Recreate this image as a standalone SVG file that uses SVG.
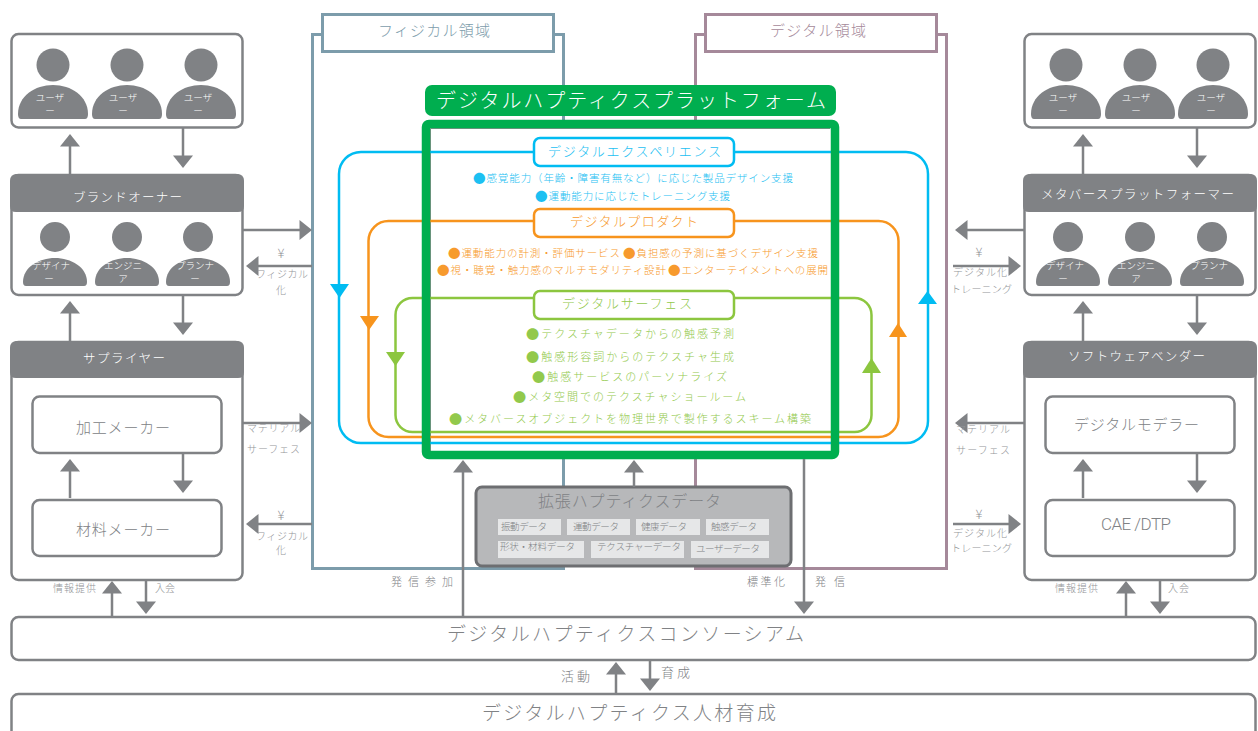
<svg xmlns="http://www.w3.org/2000/svg" width="1258" height="731" viewBox="0 0 1258 731">
<style>
text{font-family:"Noto Sans CJK JP","Noto Sans",sans-serif;font-weight:300;dominant-baseline:central;fill:#808285;font-size:10px}
.w{fill:#fff}
.pw{fill:#fff;font-size:9.5px;text-anchor:middle}
.box{fill:#fff;stroke:#808285;stroke-width:2.5}
.hd{fill:#808285}
.ar{fill:none;stroke:#808285;stroke-width:2.5}
.ah{fill:#808285}
.fig{fill:#808285}
.lb{font-size:10px;fill:#939598}
.yen{font-size:13px;fill:#939598;text-anchor:middle}
.h{font-size:12.5px}
.in{font-size:15px}
.bl{fill:#1cc0f2;font-size:10.5px}
.or{fill:#f79a2d;font-size:10.5px}
.gr{fill:#92c94c;font-size:11px}
.t13{font-size:13px}
.b{font-size:1.2em}
.chip{fill:#e6e7e8}
.ct{font-size:9.5px}
</style>
<defs>
<path id="body" class="fig" d="M-32,34Q-35,34-35,29C-35,11-18,0 0,0C18,0 35,11 35,29Q35,34 32,34Z"/>
<path id="body2" class="fig" d="M-29,28Q-32,28-32,24C-32,9-16,0 0,0C16,0 32,9 32,24Q32,28 29,28Z"/>
<path id="up" class="ah" d="M0,0L10,12.500L-10,12.500Z"/>
<path id="dn" class="ah" d="M0,0L-10,-12.500L10,-12.500Z"/>
<path id="lf" class="ah" d="M0,0L12.500,-10L12.500,10Z"/>
<path id="rt" class="ah" d="M0,0L-12.500,-10L-12.500,10Z"/>
</defs>
<rect width="1258" height="731" fill="#fff"/>

<g id="physical-domain">
<rect x="312.500" y="34.500" width="251" height="534" fill="none" stroke="#7c9cab" stroke-width="3"/>
<rect x="322.500" y="14.500" width="231" height="37" fill="#fff" stroke="#7c9cab" stroke-width="3"/>
<text x="378" y="29" textLength="112" style="fill:#7c9cab;font-size:15px">フィジカル領域</text>
</g>
<g id="digital-domain">
<rect x="695.500" y="34.500" width="251" height="534" fill="none" stroke="#a5899a" stroke-width="3"/>
<rect x="705.500" y="14.500" width="231" height="37" fill="#fff" stroke="#a5899a" stroke-width="3"/>
<text x="770" y="29" textLength="96" style="fill:#a5899a;font-size:15px">デジタル領域</text>
</g>

<g id="platform-back">
<rect x="426" y="124" width="409" height="331" fill="#fff"/>
<path d="M430.500,451V128.500H830" fill="none" stroke="#8a8a8a" stroke-width="1"/>
</g>

<g id="loops" fill="none" stroke-width="2.500">
<rect x="339" y="152" width="589" height="291" rx="22" stroke="#00bcf2"/>
<rect x="368.500" y="221" width="530" height="216" rx="20" stroke="#f7941d"/>
<rect x="395.500" y="298" width="476" height="134" rx="17" stroke="#8cc63f"/>
<path d="M330,284H349L339.500,298Z" fill="#00bcf2" stroke="none"/>
<path d="M918,304H937L927.500,291Z" fill="#00bcf2" stroke="none"/>
<path d="M360,316H379L369,330Z" fill="#f7941d" stroke="none"/>
<path d="M889,337H907L898,323Z" fill="#f7941d" stroke="none"/>
<path d="M386,352H405L395.500,366Z" fill="#8cc63f" stroke="none"/>
<path d="M862,373H881L871.500,358Z" fill="#8cc63f" stroke="none"/>
</g>

<g id="platform">
<rect x="426" y="124" width="409" height="331" rx="3" fill="none" stroke="#00ae4f" stroke-width="8.500"/>
<rect x="425" y="85" width="411" height="31" rx="7" fill="#00ae4f"/>
<text x="436" y="99" textLength="390" class="w" style="font-size:20px">デジタルハプティクスプラットフォーム</text>
</g>

<g id="digital-experience">
<rect x="534" y="138" width="200" height="28" rx="6" fill="#fff" stroke="#00bcf2" stroke-width="2.500"/>
<text x="548" y="150" textLength="173" class="bl t13">デジタルエクスペリエンス</text>
<text x="473" y="177" textLength="320" class="bl"><tspan class="b">●</tspan>感覚能力（年齢・障害有無など）に応じた製品デザイン支援</text>
<text x="535" y="195" textLength="195" class="bl"><tspan class="b">●</tspan>運動能力に応じたトレーニング支援</text>
</g>
<g id="digital-product">
<rect x="534" y="209" width="200" height="28" rx="6" fill="#fff" stroke="#f7941d" stroke-width="2.500"/>
<text x="570" y="220" textLength="128" class="or t13">デジタルプロダクト</text>
<text x="448" y="252" textLength="172" class="or"><tspan class="b">●</tspan>運動能力の計測・評価サービス</text>
<text x="623" y="252" textLength="195" class="or"><tspan class="b">●</tspan>負担感の予測に基づくデザイン支援</text>
<text x="437" y="269" textLength="229" class="or"><tspan class="b">●</tspan>視・聴覚・触力感のマルチモダリティ設計</text>
<text x="668" y="269" textLength="160" class="or"><tspan class="b">●</tspan>エンターテイメントへの展開</text>
</g>
<g id="digital-surface">
<rect x="534" y="291" width="200" height="28" rx="6" fill="#fff" stroke="#8cc63f" stroke-width="2.500"/>
<text x="562" y="302" textLength="130" class="gr t13">デジタルサーフェス</text>
<text x="526" y="333" textLength="208" class="gr"><tspan class="b">●</tspan>テクスチャデータからの触感予測</text>
<text x="526" y="356" textLength="208" class="gr"><tspan class="b">●</tspan>触感形容詞からのテクスチャ生成</text>
<text x="532" y="376" textLength="195" class="gr"><tspan class="b">●</tspan>触感サービスのパーソナライズ</text>
<text x="513" y="396" textLength="233" class="gr"><tspan class="b">●</tspan>メタ空間でのテクスチャショールーム</text>
<text x="449" y="418" textLength="362" class="gr"><tspan class="b">●</tspan>メタバースオブジェクトを物理世界で製作するスキーム構築</text>
</g>

<g id="extended-data">
<rect x="476" y="487" width="315" height="79" rx="6" fill="#b7b8ba" stroke="#6d6e71" stroke-width="3"/>
<text x="538" y="500" textLength="183" style="font-size:16px">拡張ハプティクスデータ</text>
<rect class="chip" x="498" y="519" width="63" height="16"/><text class="ct" x="501" y="526" textLength="46">振動データ</text>
<rect class="chip" x="567" y="519" width="63" height="16"/><text class="ct" x="573" y="526" textLength="46">運動データ</text>
<rect class="chip" x="636" y="519" width="64" height="16"/><text class="ct" x="641" y="526" textLength="46">健康データ</text>
<rect class="chip" x="706" y="519" width="63" height="16"/><text class="ct" x="711" y="526" textLength="46">触感データ</text>
<rect class="chip" x="498" y="541" width="86" height="17"/><text class="ct" x="500" y="546" textLength="75">形状・材料データ</text>
<rect class="chip" x="591" y="541" width="93" height="17"/><text class="ct" x="597" y="546" textLength="84">テクスチャーデータ</text>
<rect class="chip" x="691" y="541" width="78" height="17"/><text class="ct" x="696" y="548" textLength="64">ユーザーデータ</text>
</g>

<g id="users-left">
<rect class="box" x="11.500" y="34" width="231" height="93.500" rx="7"/>
<circle class="fig" cx="53" cy="65" r="16.500"/><use href="#body" x="53" y="85"/>
<circle class="fig" cx="127" cy="65" r="16.500"/><use href="#body" x="127" y="85"/>
<circle class="fig" cx="201" cy="65" r="16.500"/><use href="#body" x="201" y="85"/>
<text class="pw" x="50" y="97">ユーザ</text><text class="pw" x="50" y="110">ー</text>
<text class="pw" x="123" y="97">ユーザ</text><text class="pw" x="123" y="110">ー</text>
<text class="pw" x="198" y="97">ユーザ</text><text class="pw" x="198" y="110">ー</text>
</g>
<g id="brand-owner">
<rect class="box" x="11.500" y="175" width="231" height="120" rx="7"/>
<path class="hd" d="M10,181Q10,174 17,174H237Q244,174 244,181V206Q244,212 238,212H16Q10,212 10,206Z"/>
<text class="w h" x="73" y="196" textLength="109">ブランドオーナー</text>
<circle class="fig" cx="55" cy="237" r="15"/><use href="#body2" x="55" y="258"/>
<circle class="fig" cx="127" cy="237" r="15"/><use href="#body2" x="127" y="258"/>
<circle class="fig" cx="198" cy="237" r="15"/><use href="#body2" x="198" y="258"/>
<text class="pw" x="51" y="265">デザイナ</text><text class="pw" x="49" y="278">ー</text>
<text class="pw" x="123" y="265">エンジニ</text><text class="pw" x="123" y="278">ア</text>
<text class="pw" x="195" y="265">プランナ</text><text class="pw" x="195" y="278">ー</text>
</g>
<g id="supplier">
<rect class="box" x="11.500" y="342" width="231" height="238" rx="7"/>
<path class="hd" d="M10,348Q10,341 17,341H237Q244,341 244,348V372Q244,378 238,378H16Q10,378 10,372Z"/>
<text class="w h" x="83" y="357" textLength="82">サプライヤー</text>
<rect class="box" x="32.500" y="396.500" width="189" height="56.500" rx="7"/>
<text class="in" x="76" y="426" textLength="94">加工メーカー</text>
<rect class="box" x="32.500" y="500" width="189" height="56" rx="7"/>
<text class="in" x="76" y="528" textLength="94">材料メーカー</text>
</g>

<g id="users-right">
<rect class="box" x="1024.500" y="34" width="231" height="93.500" rx="7"/>
<circle class="fig" cx="1066" cy="65" r="16.500"/><use href="#body" x="1066" y="85"/>
<circle class="fig" cx="1140" cy="65" r="16.500"/><use href="#body" x="1140" y="85"/>
<circle class="fig" cx="1213" cy="65" r="16.500"/><use href="#body" x="1213" y="85"/>
<text class="pw" x="1063" y="97">ユーザ</text><text class="pw" x="1063" y="110">ー</text>
<text class="pw" x="1136" y="97">ユーザ</text><text class="pw" x="1136" y="110">ー</text>
<text class="pw" x="1211" y="97">ユーザ</text><text class="pw" x="1211" y="110">ー</text>
</g>
<g id="metaverse-platformer">
<rect class="box" x="1024.500" y="175" width="231" height="120" rx="7"/>
<path class="hd" d="M1023,181Q1023,174 1030,174H1250Q1257,174 1257,181V206Q1257,212 1251,212H1029Q1023,212 1023,206Z"/>
<text class="w h" x="1041" y="193" textLength="193">メタバースプラットフォーマー</text>
<circle class="fig" cx="1068" cy="237" r="15"/><use href="#body2" x="1068" y="258"/>
<circle class="fig" cx="1140" cy="237" r="15"/><use href="#body2" x="1140" y="258"/>
<circle class="fig" cx="1212" cy="237" r="15"/><use href="#body2" x="1212" y="258"/>
<text class="pw" x="1065" y="265">デザイナ</text><text class="pw" x="1063" y="278">ー</text>
<text class="pw" x="1136" y="265">エンジニ</text><text class="pw" x="1136" y="278">ア</text>
<text class="pw" x="1209" y="265">プランナ</text><text class="pw" x="1209" y="278">ー</text>
</g>
<g id="software-vendor">
<rect class="box" x="1024.500" y="342" width="231" height="238" rx="7"/>
<path class="hd" d="M1023,348Q1023,341 1030,341H1250Q1257,341 1257,348V372Q1257,378 1251,378H1029Q1023,378 1023,372Z"/>
<text class="w h" x="1068" y="355" textLength="137">ソフトウェアベンダー</text>
<rect class="box" x="1045.500" y="396.500" width="189" height="56.500" rx="7"/>
<text class="in" x="1074" y="423" textLength="125">デジタルモデラー</text>
<rect class="box" x="1045.500" y="500" width="189" height="56" rx="7"/>
<text class="in" x="1101" y="524" textLength="70" style="font-family:Roboto,'Liberation Sans',sans-serif;font-size:17px">CAE /DTP</text>
</g>

<g id="consortium">
<rect class="box" x="11.500" y="617" width="1244" height="43" rx="7"/>
<text x="447" y="632" textLength="357" style="font-size:19px">デジタルハプティクスコンソーシアム</text>
</g>
<g id="talent">
<rect class="box" x="11.500" y="694" width="1244" height="50" rx="7"/>
<text x="482" y="711" textLength="294" style="font-size:19px">デジタルハプティクス人材育成</text>
</g>

<g id="connectors">
<path class="ar" d="M70,174V145M183,128V157M70,341V312M183,295V324M70,498V470M183,453V482M243,230H300M312,266H258M243,423H300M312,524H258"/>
<path class="ar" d="M1083,174V145M1197,128V157M1083,341V312M1197,295V324M1083,498V470M1197,453V482M1024,230H967M953,266H1010M1024,423H967M953,524H1010"/>
<path class="ar" d="M112,617V592M146,580V603M1126,617V592M1160,580V603M616,694V673M650,660V680M463,617V472M634,487V472M804,459V603"/>
<use href="#up" x="70" y="134"/><use href="#dn" x="183" y="168"/>
<use href="#up" x="70" y="301"/><use href="#dn" x="183" y="335"/>
<use href="#up" x="70" y="459"/><use href="#dn" x="183" y="493"/>
<use href="#rt" x="312" y="230"/><use href="#lf" x="246" y="266"/>
<use href="#rt" x="312" y="423"/><use href="#lf" x="246" y="524"/>
<use href="#up" x="1083" y="134"/><use href="#dn" x="1197" y="168"/>
<use href="#up" x="1083" y="301"/><use href="#dn" x="1197" y="335"/>
<use href="#up" x="1083" y="459"/><use href="#dn" x="1197" y="493"/>
<use href="#lf" x="955" y="230"/><use href="#rt" x="1021" y="266"/>
<use href="#lf" x="955" y="423"/><use href="#rt" x="1021" y="524"/>
<use href="#up" x="112" y="581"/><use href="#dn" x="146" y="614"/>
<use href="#up" x="1126" y="581"/><use href="#dn" x="1160" y="614"/>
<use href="#up" x="616" y="662"/><use href="#dn" x="650" y="691"/>
<use href="#up" x="463" y="460"/><use href="#up" x="634" y="460"/><use href="#dn" x="804" y="614"/>
</g>

<g id="labels">
<text class="yen" x="281" y="252">¥</text>
<text class="lb" x="256" y="273" textLength="52">フィジカル</text><text class="lb" x="281" y="289" text-anchor="middle">化</text>
<text class="lb" x="247" y="427" textLength="53">マテリアル</text><text class="lb" x="247" y="448" textLength="53">サーフェス</text>
<text class="yen" x="281" y="514">¥</text>
<text class="lb" x="256" y="535" textLength="52">フィジカル</text><text class="lb" x="281" y="549" text-anchor="middle">化</text>
<text class="yen" x="979" y="251">¥</text>
<text class="lb" x="953" y="271" textLength="54">デジタル化</text><text class="lb" x="951" y="288" textLength="61">トレーニング</text>
<text class="lb" x="956" y="428" textLength="54">マテリアル</text><text class="lb" x="956" y="449" textLength="54">サーフェス</text>
<text class="yen" x="979" y="513">¥</text>
<text class="lb" x="953" y="532" textLength="54">デジタル化</text><text class="lb" x="951" y="547" textLength="61">トレーニング</text>
<text class="lb" x="53" y="587" textLength="43">情報提供</text><text class="lb" x="155" y="587" textLength="20">入会</text>
<text class="lb" x="1055" y="587" textLength="43">情報提供</text><text class="lb" x="1168" y="587" textLength="21">入会</text>
<text x="391" y="581" textLength="62" style="font-size:11px">発信参加</text>
<text x="747" y="581" textLength="38" style="font-size:11px">標準化</text>
<text x="815" y="581" textLength="30" style="font-size:11px">発信</text>
<text x="561" y="675" textLength="29" style="font-size:13px">活動</text>
<text x="661" y="671" textLength="29" style="font-size:13px">育成</text>
</g>
</svg>
